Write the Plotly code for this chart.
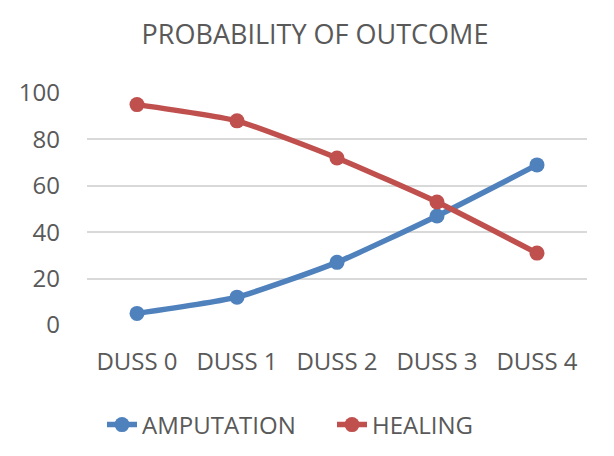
import plotly.graph_objects as go

stages = ["DUSS 0", "DUSS 1", "DUSS 2", "DUSS 3", "DUSS 4"]
amputation = [5, 12, 27, 47, 69]
healing = [95, 88, 72, 53, 31]
y_ticks = [0, 20, 40, 60, 80, 100]

font_name = "Open Sans"
grey = "#595959"

fig = go.Figure()

fig.add_trace(go.Scatter(
    x=stages, y=amputation, name="AMPUTATION",
    mode="lines+markers",
    line=dict(color="#4F81BD", width=5.5, shape="spline", smoothing=0.5),
    marker=dict(size=15, color="#4F81BD"),
    cliponaxis=False
))
fig.add_trace(go.Scatter(
    x=stages, y=healing, name="HEALING",
    mode="lines+markers",
    line=dict(color="#C0504D", width=5.5, shape="spline", smoothing=0.5),
    marker=dict(size=15, color="#C0504D"),
    cliponaxis=False
))

# page body has an 8px margin, so margins are trimmed by 8 to line up
fig.update_layout(
    width=614, height=456,
    paper_bgcolor="white", plot_bgcolor="white",
    margin=dict(l=79, r=35, t=85, b=139, autoexpand=False),
    font=dict(family=font_name, color=grey, size=24),
    title=dict(text="PROBABILITY OF OUTCOME", x=0.5, xanchor="center",
               y=0.941, yanchor="middle", font=dict(size=27, color=grey)),
    legend=dict(orientation="h", x=0.49, xanchor="center", y=-0.431, yanchor="middle",
                font=dict(size=24, color=grey), entrywidth=185, entrywidthmode="pixels"),
    showlegend=True,
)
fig.update_xaxes(range=[-0.5, 4.5], showgrid=False, showline=False, ticks="",
                 ticklabelstandoff=20, tickfont=dict(size=24))
fig.update_yaxes(range=[0, 100], tickvals=y_ticks, showgrid=True, gridcolor="#D9D9D9",
                 gridwidth=1.5, zeroline=False, showline=False, ticks="",
                 ticklabelstandoff=26, tickfont=dict(size=24))

fig.write_html("out.html")
